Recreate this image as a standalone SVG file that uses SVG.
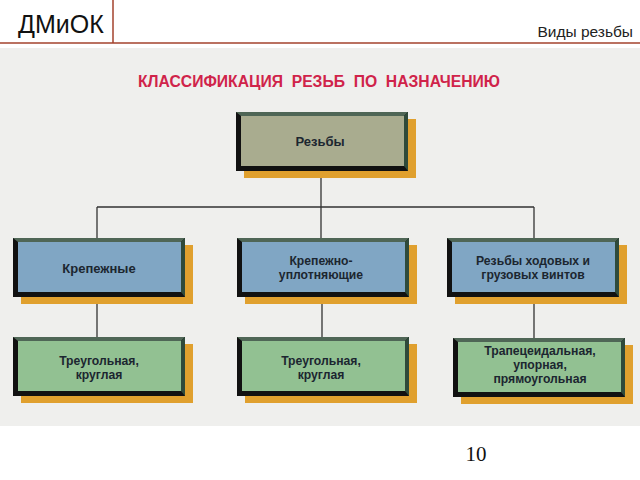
<svg xmlns="http://www.w3.org/2000/svg" xmlns:xlink="http://www.w3.org/1999/xlink" width="640" height="480" viewBox="0 0 640 480">
<style>
.hdr{stroke:#a3422c;stroke-width:1.5;fill:none}
.lbl{font-family:"Liberation Sans",Arial,sans-serif;font-weight:bold;font-size:12.2px;fill:#1c2630;text-anchor:middle}
.con{stroke:#333;stroke-width:1.3;fill:none}
.olive{fill:#a9ac8f}
.blue{fill:#80a6c4}
.green{fill:#92c192}
</style>
<defs>
<g id="frame">
<rect x="8" y="7" width="172" height="59" fill="#e0a02e"/>
<rect x="0" y="0" width="172" height="59" fill="#111"/>
<polygon points="0,0 172,0 168,4 5,4" fill="#4f6656"/>
<polygon points="172,0 172,59 168,54 168,4" fill="#2f4a3a"/>
<rect x="5" y="4" width="163" height="50"/>
</g>
</defs>
<rect width="640" height="480" fill="#fff"/>
<rect x="0" y="48" width="640" height="378" fill="#efefed"/>
<g id="header">
<line class="hdr" x1="113" y1="0" x2="113" y2="43"/>
<line class="hdr" x1="0" y1="43" x2="640" y2="43"/>
<text x="18" y="33" font-family="'Liberation Sans',Arial,sans-serif" font-size="25" fill="#111">ДМиОК</text>
<text x="633" y="37" font-family="'Liberation Sans',Arial,sans-serif" font-size="15.5" fill="#222" text-anchor="end">Виды резьбы</text>
</g>
<text x="319" y="87" font-family="'Liberation Sans',Arial,sans-serif" font-weight="bold" font-size="16" fill="#d0234a" text-anchor="middle" textLength="362" lengthAdjust="spacingAndGlyphs" style="white-space:pre">КЛАССИФИКАЦИЯ  РЕЗЬБ  ПО  НАЗНАЧЕНИЮ</text>
<g id="connectors">
<path class="con" d="M321,170 V207 M97,207 H534 M97,207 V238 M321,207 V238 M534,207 V238 M97,298 V337 M322,298 V337 M534,297 V338"/>
</g>
<g id="n-rezby"><use xlink:href="#frame" x="236" y="112" class="olive"/><text class="lbl" x="320" y="146" style="font-size:13px">Резьбы</text></g>
<g id="n-krep"><use xlink:href="#frame" x="13" y="238" class="blue"/><text class="lbl" x="99" y="273" style="font-size:13px">Крепежные</text></g>
<g id="n-krep-upl"><use xlink:href="#frame" x="237" y="238" class="blue"/><text class="lbl" x="321" y="265">Крепежно-<tspan x="321" dy="14">уплотняющие</tspan></text></g>
<g id="n-hod"><use xlink:href="#frame" x="447" y="238" class="blue"/><text class="lbl" x="533" y="265">Резьбы ходовых и<tspan x="533" dy="14">грузовых винтов</tspan></text></g>
<g id="n-tri1"><use xlink:href="#frame" x="13" y="337" class="green"/><text class="lbl" x="99" y="365">Треугольная,<tspan x="99" dy="14">круглая</tspan></text></g>
<g id="n-tri2"><use xlink:href="#frame" x="237" y="337" class="green"/><text class="lbl" x="321" y="365">Треугольная,<tspan x="321" dy="14">круглая</tspan></text></g>
<g id="n-trap"><use xlink:href="#frame" x="453" y="338" class="green"/><text class="lbl" x="540" y="355">Трапецеидальная,<tspan x="540" dy="14">упорная,</tspan><tspan x="540" dy="14">прямоугольная</tspan></text></g>
<text x="476" y="461" font-family="'Liberation Serif','Times New Roman',serif" font-size="21" fill="#111" text-anchor="middle">10</text>
</svg>
